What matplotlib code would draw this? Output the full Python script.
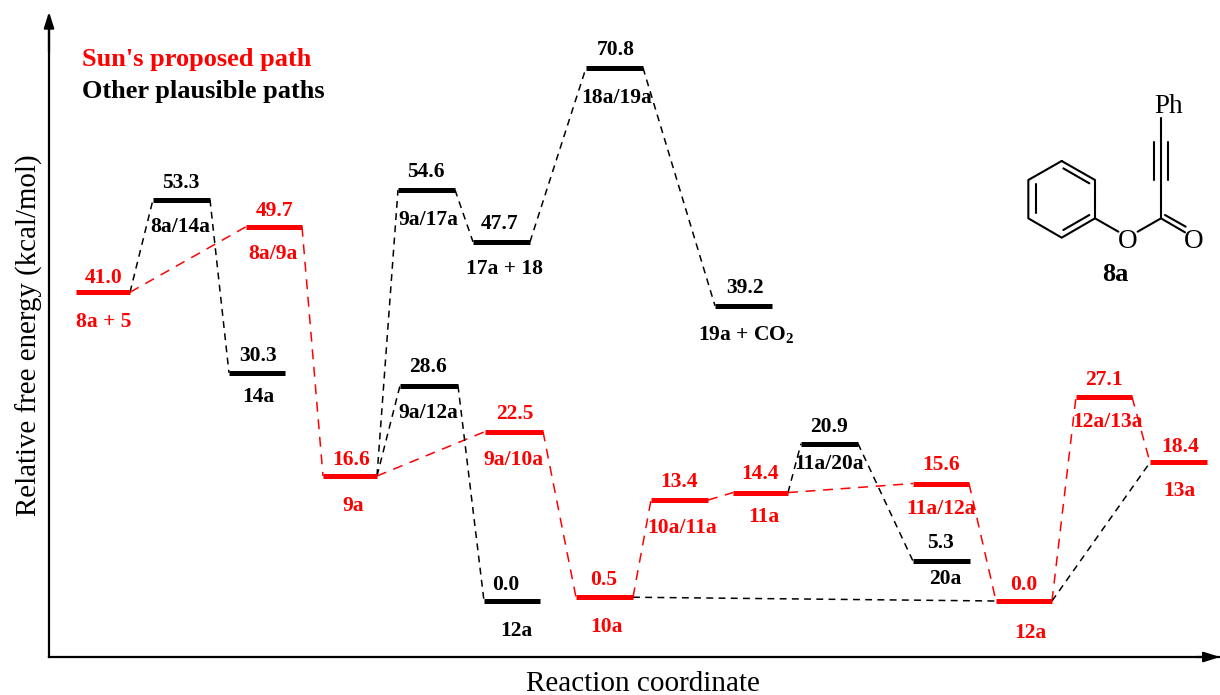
import matplotlib
matplotlib.use('Agg')
import matplotlib.pyplot as plt

plt.rcParams['font.family'] = ['Liberation Serif', 'DejaVu Serif']
plt.rcParams['mathtext.fontset'] = 'custom'
plt.rcParams['mathtext.bf'] = 'Liberation Serif:bold'
plt.rcParams['mathtext.rm'] = 'Liberation Serif:bold'

## red path
red_names = ['8a + 5', '8a/9a', '9a', '9a/10a', '10a', '10a/11a', '11a', '11a/12a', '12a', '12a/13a', '13a']
red_values = [41.0, 49.7, 16.6, 22.5, 0.5, 13.4, 14.4, 15.6, 0.0, 27.1, 18.4]
red_x0 = [76, 246, 323, 485, 576, 651, 733, 913, 996, 1076, 1150]
red_x1 = [130, 302, 377, 543, 633, 708, 788, 969, 1052, 1132, 1207]

## black paths
black_names = ['8a/14a', '14a', '9a/17a', '17a + 18', '18a/19a', '19a + CO$_\\mathbf{2}$', '9a/12a', '12a', '11a/20a', '20a']
black_values = [53.3, 30.3, 54.6, 47.7, 70.8, 39.2, 28.6, 0.0, 20.9, 5.3]
black_x0 = [153, 229, 398, 473, 586, 715, 400, 484, 801, 913]
black_x1 = [210, 285, 455, 530, 643, 772, 458, 540, 858, 970]

## label layout, pixels relative to the level
red_val_x = [104, 275, 351, 515, 604, 679, 760, 941, 1024, 1104, 1180]
red_val_dy = [17, 18, 19, 20, 20, 21, 21, 21, 18, 19, 18]
red_name_x = [104, 273, 353, 513, 606, 682, 764, 941, 1030, 1107, 1179]
red_name_dy = [27, 25, 27, 26, 27, 25, 22, 23, 29, 23, 26]
black_val_x = [181, 258, 426, 500, 616, 745, 428, 506, 829, 941]
black_val_dy = [19, 19, 20, 20, 20, 20, 21, 19, 19, 21]
black_name_x = [180, 258, 428, 505, 617, 746, 428, 516, 829, 945]
black_name_dy = [25, 22, 28, 25, 28, 27, 25, 28, 18, 15]
TXT_SHIFT = 2.5  # rendered labels sit this far above the asked row

## dashed links (colour, from, to), R = red level, B = black level
red_links = [(i, i+1) for i in range(len(red_names)-1)]
black_links = [('R', 0, 'B', 0), ('B', 0, 'B', 1),
               ('R', 2, 'B', 2), ('B', 2, 'B', 3), ('B', 3, 'B', 4), ('B', 4, 'B', 5),
               ('R', 2, 'B', 6), ('B', 6, 'B', 7),
               ('R', 6, 'B', 8), ('B', 8, 'B', 9),
               ('R', 4, 'R', 8), ('R', 8, 'R', 10)]

PX = 7.53  # pixels per kcal/mol
Y0 = 601   # pixel row of 0.0
def en(p):
    return (Y0-p)/PX

fig = plt.figure(figsize=(12.2, 6.95), dpi=100)
ax = fig.add_axes([49/1220, (695-657)/695, (1220-49)/1220, (657-20)/695])
ax.set_xlim(49, 1220)
ax.set_ylim(en(657), en(20))
ax.set_xticks([])
ax.set_yticks([])
for s in ['top', 'right']:
    ax.spines[s].set_visible(False)
for s in ['left', 'bottom']:
    ax.spines[s].set_linewidth(1.6)
head = dict(arrowstyle='-|>,head_length=0.95,head_width=0.3', color='k', lw=1.6, shrinkA=0, shrinkB=0)
ax.annotate('', xy=(0, 1.013), xytext=(0, 0.95), xycoords='axes fraction', arrowprops=head)
ax.annotate('', xy=(1, 0), xytext=(0.98, 0), xycoords='axes fraction', arrowprops=head)

ax.set_xlabel('Reaction coordinate', fontsize=21, labelpad=10, x=0.507)
ax.set_ylabel('Relative free energy (kcal/mol)', fontsize=20.8, labelpad=4, y=0.505)

ends = {'R': (red_x0, red_x1, red_values), 'B': (black_x0, black_x1, black_values)}
dash = dict(lw=1.1, zorder=1)
for a, b in red_links:
    ax.plot([red_x1[a], red_x0[b]], [red_values[a], red_values[b]], color='r', ls=(0, (6.5, 5)), **dash)
for c0, a, c1, b in black_links:
    ax.plot([ends[c0][1][a], ends[c1][0][b]], [ends[c0][2][a], ends[c1][2][b]], color='k', ls=(0, (4.5, 3.5)), **dash)

def draw_levels(x0, x1, vals, names, vx, vdy, nx, ndy, col):
    for i in range(len(vals)):
        ax.plot([x0[i], x1[i]], [vals[i], vals[i]], color=col, lw=3.6, solid_capstyle='butt', zorder=3)
        ax.annotate('%.1f' % vals[i], (vx[i], vals[i]), xytext=(0, vdy[i]-TXT_SHIFT), textcoords='offset pixels',
                    ha='center', va='center', color=col, fontsize=15.5, fontweight='bold')
        ax.annotate(names[i], (nx[i], vals[i]), xytext=(0, -ndy[i]-TXT_SHIFT), textcoords='offset pixels',
                    ha='center', va='center', color=col, fontsize=15.5, fontweight='bold')

draw_levels(black_x0, black_x1, black_values, black_names, black_val_x, black_val_dy, black_name_x, black_name_dy, 'k')
draw_levels(red_x0, red_x1, red_values, red_names, red_val_x, red_val_dy, red_name_x, red_name_dy, 'r')

ax.text(82, en(60), "Sun's proposed path", color='r', fontsize=19, fontweight='bold', va='center')
ax.text(82, en(92), 'Other plausible paths', color='k', fontsize=19, fontweight='bold', va='center')

## 8a structure, zoom crop coordinates
def mol(points, **kw):
    xs = [1000+p[0]/3 for p in points]
    ys = [en(80+p[1]/3) for p in points]
    ax.plot(xs, ys, color='k', lw=1.5, solid_capstyle='round', **kw)

mol([(185, 243), (285, 300), (285, 415), (185, 473), (85, 415), (85, 300), (185, 243)])
mol([(190, 265), (268, 310)])
mol([(268, 405), (190, 450)])
mol([(107, 312), (107, 400)])
mol([(285, 415), (355, 455)])
mol([(413, 455), (483, 415), (555, 457)])
mol([(483, 415), (483, 115)])
mol([(461, 185), (461, 300)])
mol([(505, 185), (505, 300)])
mol([(495, 405), (557, 440)])
ax.text(1000+383/3, en(82+478/3), 'O', fontsize=19.5, ha='center', va='center')
ax.text(1000+580/3, en(82+478/3), 'O', fontsize=19.5, ha='center', va='center')
ax.text(1000+505/3, en(82+75/3), 'Ph', fontsize=19.5, ha='center', va='center')
ax.text(1000+347/3, en(82+578/3), '8a', fontsize=19, fontweight='bold', ha='center', va='center')

fig.savefig('out.png', dpi=100)
